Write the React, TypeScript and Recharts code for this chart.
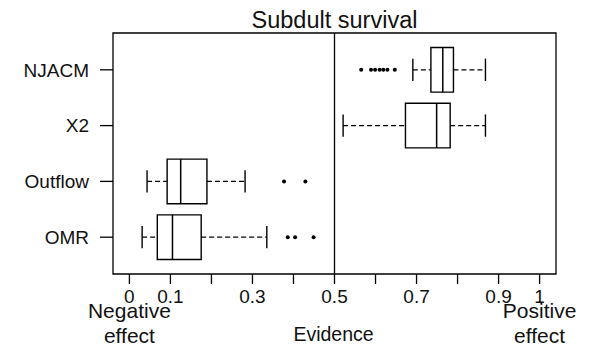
import { ComposedChart, XAxis, YAxis, Scatter, ReferenceLine, ReferenceArea } from "recharts";

// categories bottom -> top (y positions 1..4)
const categories = ["OMR", "Outflow", "X2", "NJACM"];
const whiskerLow = [0.031, 0.043, 0.521, 0.691];
const q1 = [0.068, 0.092, 0.673, 0.735];
const median = [0.105, 0.125, 0.749, 0.764];
const q3 = [0.175, 0.189, 0.782, 0.79];
const whiskerHigh = [0.335, 0.282, 0.868, 0.868];
const outliers = [
  [0.386, 0.404, 0.449],
  [0.377, 0.429],
  [],
  [0.565, 0.589, 0.599, 0.61, 0.619, 0.629, 0.647],
];

const xTicks = [0, 0.1, 0.2, 0.3, 0.4, 0.5, 0.6, 0.7, 0.8, 0.9, 1];
const xTickLabels = ["0", "0.1", "", "0.3", "", "0.5", "", "0.7", "", "0.9", "1"];
const negLabel = ["Negative", "effect"];
const posLabel = ["Positive", "effect"];
const xTitle = "Evidence";
const title = "Subdult survival";

const FONT = '"Liberation Sans", Arial, Helvetica, sans-serif';
const INK = "#111";
const BOX_HALF = 0.4; // boxwex 0.8
const CAP_HALF = 0.2; // staplewex 0.5

const outlierPts = outliers.flatMap((vals, i) => vals.map((x) => ({ x, y: i + 1 })));

function XTick(props: any) {
  const { x, y, payload } = props;
  const v = payload.value;
  const idx = xTicks.findIndex((t) => Math.abs(t - v) < 1e-9);
  const extra = Math.abs(v) < 1e-9 ? negLabel : Math.abs(v - 1) < 1e-9 ? posLabel : null;
  return (
    <g fontFamily={FONT} fill={INK} textAnchor="middle">
      <text x={x} y={y + 19} fontSize={19}>
        {xTickLabels[idx]}
      </text>
      {extra && (
        <>
          <text x={x} y={y + 34} fontSize={21}>{extra[0]}</text>
          <text x={x} y={y + 59} fontSize={21}>{extra[1]}</text>
        </>
      )}
      {Math.abs(v - 0.5) < 1e-9 && (
        <text x={x - 1} y={y + 57} fontSize={19.5}>{xTitle}</text>
      )}
    </g>
  );
}

export default function App() {
  return (
    <div style={{ position: "relative", width: 589, height: 347, background: "#fff" }}>
      <style>{"body{margin:0}"}</style>
      <div
        style={{
          position: "absolute",
          left: 113,
          width: 443,
          top: 8,
          lineHeight: "24px",
          fontSize: 23.5,
          fontFamily: FONT,
          color: INK,
          textAlign: "center",
        }}
      >
        {title}
      </div>
      <ComposedChart width={589} height={347} margin={{ top: 33, right: 33, bottom: 0, left: 0 }}>
        <XAxis
          type="number"
          dataKey="x"
          domain={[-0.04, 1.04]}
          ticks={xTicks}
          allowDataOverflow
          axisLine={false}
          tickSize={10}
          tickMargin={0}
          tickLine={{ stroke: "#000", strokeWidth: 1.3 }}
          tick={<XTick />}
          height={73}
          interval={0}
        />
        <YAxis
          type="number"
          dataKey="y"
          domain={[0.34, 4.66]}
          ticks={[1, 2, 3, 4]}
          allowDataOverflow
          axisLine={false}
          tickSize={13}
          tickMargin={11}
          tickLine={{ stroke: "#000", strokeWidth: 1.3 }}
          tickFormatter={(v: number) => categories[v - 1] ?? ""}
          tick={{ fontSize: 19, fill: INK, fontFamily: FONT }}
          width={113}
          interval={0}
        />
        <ReferenceArea
          x1={-0.04}
          x2={1.04}
          y1={0.34}
          y2={4.66}
          fill="none"
          stroke="#000"
          strokeWidth={1.3}
          ifOverflow="visible"
        />
        <ReferenceLine x={0.5} stroke="#000" strokeWidth={1.3} ifOverflow="visible" />
        {categories.map((c, i) => {
          const p = i + 1;
          return [
            <ReferenceLine
              key={c + "wl"}
              segment={[{ x: whiskerLow[i], y: p }, { x: q1[i], y: p }]}
              stroke="#000"
              strokeWidth={1.3}
              strokeDasharray="5 3"
              ifOverflow="visible"
            />,
            <ReferenceLine
              key={c + "wh"}
              segment={[{ x: q3[i], y: p }, { x: whiskerHigh[i], y: p }]}
              stroke="#000"
              strokeWidth={1.3}
              strokeDasharray="5 3"
              ifOverflow="visible"
            />,
            <ReferenceLine
              key={c + "cl"}
              segment={[{ x: whiskerLow[i], y: p - CAP_HALF }, { x: whiskerLow[i], y: p + CAP_HALF }]}
              stroke="#000"
              strokeWidth={1.4}
              ifOverflow="visible"
            />,
            <ReferenceLine
              key={c + "ch"}
              segment={[{ x: whiskerHigh[i], y: p - CAP_HALF }, { x: whiskerHigh[i], y: p + CAP_HALF }]}
              stroke="#000"
              strokeWidth={1.4}
              ifOverflow="visible"
            />,
            <ReferenceArea
              key={c + "box"}
              x1={q1[i]}
              x2={q3[i]}
              y1={p - BOX_HALF}
              y2={p + BOX_HALF}
              fill="#fff"
              fillOpacity={1}
              stroke="#000"
              strokeWidth={1.4}
              ifOverflow="visible"
            />,
            <ReferenceLine
              key={c + "med"}
              segment={[{ x: median[i], y: p - BOX_HALF }, { x: median[i], y: p + BOX_HALF }]}
              stroke="#000"
              strokeWidth={1.5}
              ifOverflow="visible"
            />,
          ];
        })}
        <Scatter
          data={outlierPts}
          isAnimationActive={false}
          shape={(pt: any) => <circle cx={pt.cx} cy={pt.cy} r={2} fill="#000" />}
        />
      </ComposedChart>
    </div>
  );
}
